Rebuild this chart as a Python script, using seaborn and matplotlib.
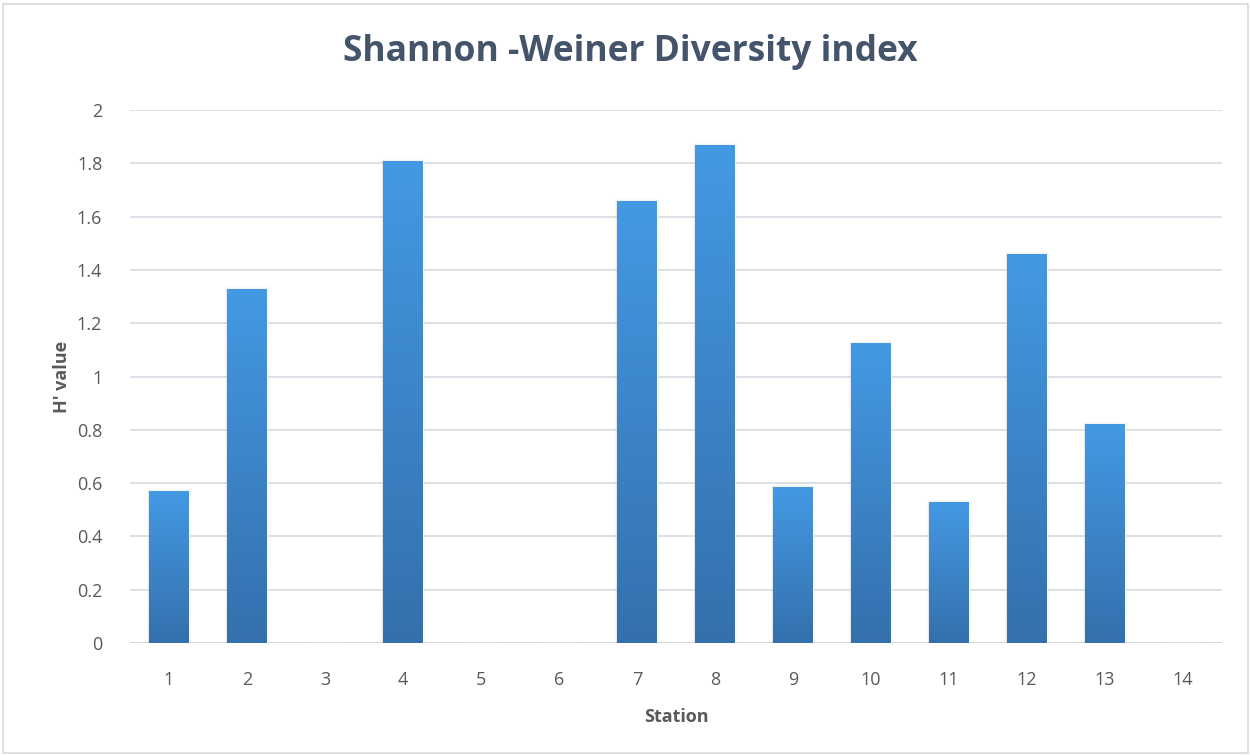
import numpy as np
import pandas as pd
import matplotlib.pyplot as plt
import seaborn as sns
from matplotlib.colors import LinearSegmentedColormap
from matplotlib.patches import Rectangle

# data
stations = ['1', '2', '3', '4', '5', '6', '7', '8', '9', '10', '11', '12', '13', '14']
h_values = [0.57, 1.33, 0, 1.81, 0, 0, 1.66, 1.87, 0.585, 1.125, 0.53, 1.46, 0.82, 0]

df = pd.DataFrame({'Station': stations, 'H': h_values})

sns.set_theme(style='white')
plt.rcParams['font.family'] = ['Open Sans', 'DejaVu Sans']

txt = '#595959'
fig = plt.figure(figsize=(12.5, 7.55), dpi=100)
ax = fig.add_axes([0.104, 0.1483, 0.8736, 0.706])

sns.barplot(data=df, x='Station', y='H', color='#4499E3', width=0.51,
            saturation=1, ax=ax, zorder=3)

# vertical gradient on each bar (darker at the base)
cmap = LinearSegmentedColormap.from_list('grad', ['#3470AC', '#4499E3'])
grad = np.linspace(0, 1, 256).reshape(-1, 1)
for p in ax.patches:
    h = p.get_height()
    if h <= 0:
        continue
    x0, w = p.get_x(), p.get_width()
    # soft shadow
    for k, a in enumerate([0.05, 0.035, 0.02]):
        ax.add_patch(Rectangle((x0 - 0.01 * (k + 1), -0.004), w + 0.02 * (k + 1), h + 0.004 * (k + 1),
                               color='black', alpha=a, lw=0, zorder=2))
    im = ax.imshow(grad, cmap=cmap, aspect='auto', origin='lower',
                   extent=[x0, x0 + w, 0, h], zorder=4)
    im.set_clip_path(p)

ax.set_xlim(-0.5, 13.5)
ax.set_ylim(0, 2)
ax.set_yticks(np.arange(0, 2.01, 0.2))
ax.set_yticklabels(['0', '0.2', '0.4', '0.6', '0.8', '1', '1.2', '1.4', '1.6', '1.8', '2'])
ax.grid(axis='y', color='#D9DEE5', lw=1.3, zorder=0)
ax.axhline(0, color='#D0D5DC', lw=1.3, zorder=1)
for s in ax.spines.values():
    s.set_visible(False)
ax.tick_params(axis='both', length=0, labelsize=13, colors=txt)
ax.tick_params(axis='x', pad=20)
ax.tick_params(axis='y', pad=20)

ax.set_xlabel('Station', fontsize=13, fontweight='bold', color=txt, labelpad=14)
ax.set_ylabel("H' value", fontsize=13, fontweight='bold', color=txt, labelpad=4)
fig.text(0.504, 0.931, 'Shannon -Weiner Diversity index', ha='center', va='center',
         fontsize=25.5, fontweight='bold', color='#44546A')

# outer border
fig.patches.append(Rectangle((0.002, 0.003), 0.996, 0.992, transform=fig.transFigure,
                             fill=False, edgecolor='#D9D9D9', lw=1.2))

fig.savefig('out.png', dpi=100)
